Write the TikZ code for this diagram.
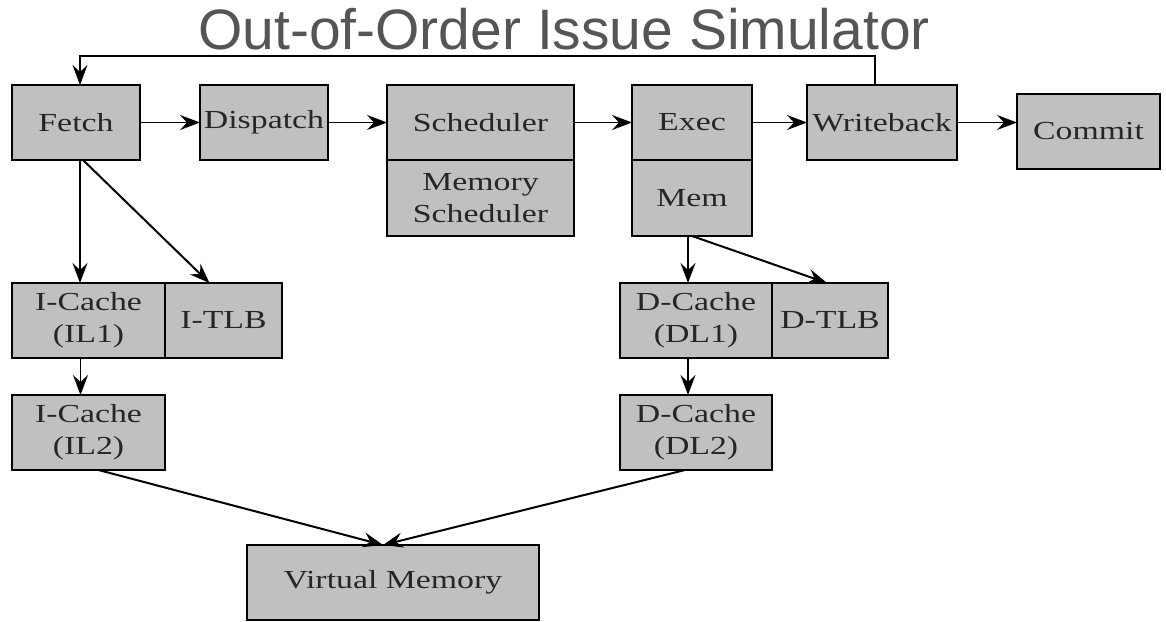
\documentclass[tikz,border=0pt]{standalone}
\usepackage{fontspec}
\setmainfont{Liberation Serif}
\newfontfamily\boxfont[FakeStretch=1.3]{Liberation Serif}
\newfontfamily\titlefont{Liberation Sans}
\usetikzlibrary{arrows.meta, positioning}
\definecolor{boxgray}{RGB}{192,192,192}
\definecolor{titlegray}{RGB}{85,85,85}

\begin{document}
\begin{tikzpicture}[
    x=1pt, y=1pt,
    block/.style={rectangle, draw, fill=boxgray, line width=1.3pt, inner sep=0pt, outer sep=0pt, align=center, minimum height=75pt, text=black!85, font=\boxfont\fontsize{26}{32}\selectfont},
    arrow/.style={-{Stealth[length=20pt, width=15pt, inset=7pt]}, line width=1.3pt},
    diag/.style={arrow, line width=2pt}
]
    \useasboundingbox (0,0) rectangle (1166,-621);

    % Title
    \node[font=\titlefont\fontsize{57}{60}\selectfont, text=titlegray, anchor=base] (title) at (564,-49) {Out-of-Order Issue Simulator};

    % Pipeline stages
    \node[block, minimum width=128pt] (fetch) at (76,-122.5) {Fetch};
    \node[block, minimum width=128pt, right=60pt of fetch] (dispatch) {Dispatch};
    \node[block, minimum width=187pt, right=59pt of dispatch] (sched) {Scheduler};
    \node[block, minimum width=187pt, minimum height=76pt, below=0pt of sched] (memsched) {Memory\\Scheduler};
    \node[block, minimum width=120pt, right=58pt of sched] (exec) {Exec};
    \node[block, minimum width=120pt, minimum height=76pt, below=0pt of exec] (mem) {Mem};
    \node[block, minimum width=150pt, right=55pt of exec] (wb) {Writeback};
    \node[block, minimum width=143pt, right=60pt of wb, yshift=-9pt] (commit) {Commit};

    % Instruction side
    \node[block, minimum width=153pt, below=123pt of fetch.south west, anchor=north west] (il1) {I-Cache\\(IL1)};
    \node[block, minimum width=117pt, right=0pt of il1] (itlb) {I-TLB};
    \node[block, minimum width=153pt, below=37pt of il1] (il2) {I-Cache\\(IL2)};

    % Data side
    \node[block, minimum width=152pt, below=47pt of mem, xshift=4pt] (dl1) {D-Cache\\(DL1)};
    \node[block, minimum width=116pt, right=0pt of dl1] (dtlb) {D-TLB};
    \node[block, minimum width=152pt, below=37pt of dl1] (dl2) {D-Cache\\(DL2)};

    % Memory
    \node[block, minimum width=292pt, below right=75pt and 82pt of il2.south east] (vm) {Virtual Memory};

    % Arrows
    \draw[arrow] (fetch) -- (dispatch);
    \draw[arrow] (dispatch) -- (sched);
    \draw[arrow] (sched) -- (exec);
    \draw[arrow] (exec) -- (wb);
    \draw[arrow] (wb.east) -- (wb.east -| commit.west);
    \draw[arrow] ([xshift=-7pt]wb.north) -- ++(0,29) -| ([xshift=4pt]fetch.north);
    \draw[arrow] ([xshift=4pt]fetch.south) -- ([xshift=4pt]fetch.south |- il1.north);
    \draw[diag] ([xshift=7pt]fetch.south) -- ([xshift=-14pt]itlb.north);
    \draw[arrow] ([xshift=-4pt]mem.south) -- ([xshift=-4pt]mem.south |- dl1.north);
    \draw[diag] (mem.south) -- ([xshift=-3pt]dtlb.north);
    \draw[arrow] ([xshift=-8pt]il1.south) -- ([xshift=-8pt]il2.north);
    \draw[arrow] ([xshift=-8pt]dl1.south) -- ([xshift=-8pt]dl2.north);
    \draw[diag] ([xshift=10pt]il2.south) -- ([xshift=-10pt]vm.north);
    \draw[diag] ([xshift=-11pt]dl2.south) -- ([xshift=-10pt]vm.north);
\end{tikzpicture}
\end{document}
